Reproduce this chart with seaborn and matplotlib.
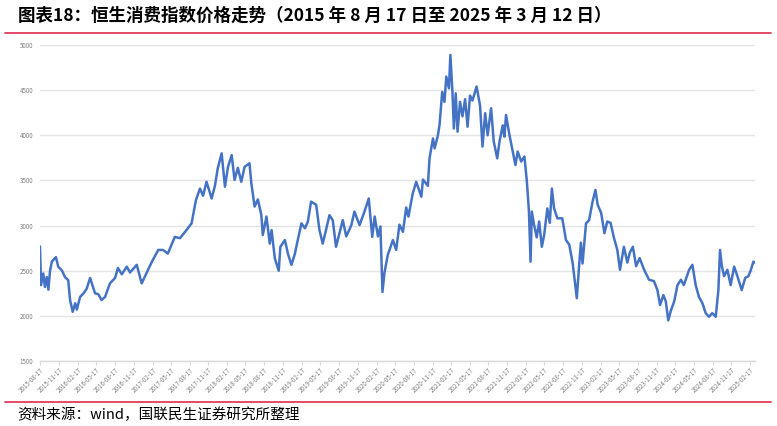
import pandas as pd
import matplotlib
matplotlib.use("Agg")
import matplotlib.pyplot as plt
import matplotlib.dates as mdates
import seaborn as sns

# 恒生消费指数 readings taken off the reference chart
dates = [
    "2015-08-17", "2015-08-22", "2015-09-02", "2015-09-10", "2015-09-19", "2015-09-27",
    "2015-10-05", "2015-10-14", "2015-10-29", "2015-11-03", "2015-11-14", "2015-12-03",
    "2015-12-17", "2016-01-02", "2016-01-11", "2016-01-24", "2016-02-05", "2016-02-13",
    "2016-02-29", "2016-03-17", "2016-04-01", "2016-04-18", "2016-05-12", "2016-05-28",
    "2016-06-13", "2016-06-30", "2016-07-24", "2016-08-18", "2016-09-01", "2016-09-20",
    "2016-10-14", "2016-10-30", "2016-12-02", "2016-12-26", "2017-01-20", "2017-02-14",
    "2017-03-17", "2017-04-09", "2017-05-03", "2017-06-06", "2017-07-01", "2017-08-02",
    "2017-08-27", "2017-09-17", "2017-10-07", "2017-10-22", "2017-11-08", "2017-12-03",
    "2017-12-19", "2018-01-02", "2018-01-21", "2018-02-06", "2018-02-21", "2018-03-11",
    "2018-03-25", "2018-04-10", "2018-04-27", "2018-05-13", "2018-06-06", "2018-06-15",
    "2018-07-01", "2018-07-17", "2018-08-03", "2018-08-10", "2018-08-28", "2018-09-13",
    "2018-09-22", "2018-10-08", "2018-10-27", "2018-11-04", "2018-11-26", "2018-12-12",
    "2018-12-28", "2019-01-13", "2019-01-28", "2019-02-15", "2019-03-04", "2019-03-18",
    "2019-04-03", "2019-04-28", "2019-05-14", "2019-05-30", "2019-06-15", "2019-07-02",
    "2019-07-18", "2019-08-03", "2019-08-20", "2019-09-05", "2019-09-22", "2019-10-17",
    "2019-11-01", "2019-11-26", "2019-12-20", "2020-01-10", "2020-01-27", "2020-02-08",
    "2020-02-24", "2020-03-07", "2020-03-17", "2020-03-27", "2020-04-12", "2020-05-07",
    "2020-05-23", "2020-06-08", "2020-06-25", "2020-07-11", "2020-07-22", "2020-08-12",
    "2020-08-29", "2020-09-23", "2020-10-01", "2020-10-25", "2020-11-02", "2020-11-19",
    "2020-11-27", "2020-12-13", "2020-12-21", "2021-01-03", "2021-01-14", "2021-01-23",
    "2021-02-05", "2021-02-12", "2021-02-22", "2021-03-01", "2021-03-10", "2021-03-19",
    "2021-03-31", "2021-04-12", "2021-04-25", "2021-05-07", "2021-05-19", "2021-05-31",
    "2021-06-20", "2021-07-07", "2021-07-19", "2021-08-01", "2021-08-13", "2021-08-30",
    "2021-09-12", "2021-09-29", "2021-10-10", "2021-10-26", "2021-11-03", "2021-11-11",
    "2021-11-28", "2021-12-14", "2021-12-27", "2022-01-07", "2022-01-24", "2022-02-09",
    "2022-02-21", "2022-03-03", "2022-03-11", "2022-03-17", "2022-03-28", "2022-04-10",
    "2022-04-22", "2022-05-05", "2022-05-16", "2022-06-01", "2022-06-13", "2022-06-23",
    "2022-07-04", "2022-07-20", "2022-08-13", "2022-08-31", "2022-09-16", "2022-10-03",
    "2022-10-16", "2022-10-23", "2022-11-04", "2022-11-12", "2022-11-20", "2022-12-07",
    "2022-12-22", "2023-01-08", "2023-01-22", "2023-02-02", "2023-02-19", "2023-03-07",
    "2023-03-21", "2023-04-06", "2023-04-23", "2023-05-09", "2023-05-22", "2023-06-10",
    "2023-06-27", "2023-07-09", "2023-07-24", "2023-08-09", "2023-08-26", "2023-09-17",
    "2023-10-11", "2023-11-04", "2023-11-21", "2023-12-04", "2023-12-20", "2024-01-01",
    "2024-01-13", "2024-01-26", "2024-02-11", "2024-02-27", "2024-03-15", "2024-03-29",
    "2024-04-24", "2024-05-10", "2024-05-26", "2024-06-11", "2024-06-28", "2024-07-14",
    "2024-07-30", "2024-08-15", "2024-09-01", "2024-09-14", "2024-09-22", "2024-10-01",
    "2024-10-12", "2024-10-28", "2024-11-13", "2024-11-30", "2024-12-16", "2025-01-06",
    "2025-01-23", "2025-02-08", "2025-02-20", "2025-03-04", "2025-03-12",
]
index_values = [
    2768, 2340, 2470, 2320, 2430, 2290,
    2500, 2600, 2640, 2650, 2545, 2500,
    2430, 2395, 2175, 2045, 2140, 2070,
    2210, 2250, 2300, 2420, 2250, 2240,
    2175, 2210, 2360, 2420, 2530, 2460,
    2545, 2480, 2565, 2360, 2480, 2600,
    2730, 2730, 2690, 2875, 2860, 2950,
    3025, 3280, 3410, 3330, 3485, 3300,
    3440, 3635, 3800, 3430, 3650, 3780,
    3505, 3640, 3485, 3650, 3690, 3470,
    3210, 3290, 3115, 2895, 3100, 2800,
    2950, 2635, 2500, 2765, 2840, 2680,
    2565, 2680, 2840, 3025, 2970, 3040,
    3265, 3230, 2950, 2800, 2950, 3115,
    3060, 2765, 2915, 3060, 2880, 3005,
    3155, 3005, 3155, 3300, 2875, 3100,
    2880, 2990, 2265, 2480, 2675, 2840,
    2730, 3010, 2930, 3200, 3100, 3355,
    3485, 3320, 3510, 3440, 3745, 3965,
    3855, 4000, 4115, 4480, 4370, 4650,
    4520, 4890, 4480, 4075, 4465, 4040,
    4370, 4210, 4400, 4095, 4440, 4385,
    4540, 4330, 3875, 4245, 4000, 4300,
    3930, 3745, 3930, 4110, 3985, 4225,
    4000, 3820, 3670, 3820, 3710, 3765,
    3485, 3155, 2600, 3155, 3010, 2870,
    3045, 2765, 2890, 3190, 3030, 3410,
    3190, 3080, 3080, 2840, 2790, 2580,
    2325, 2195, 2580, 2810, 2580, 3025,
    3060, 3265, 3395, 3230, 3140, 2915,
    3045, 3030, 2860, 2730, 2510, 2765,
    2590, 2700, 2765, 2550, 2640, 2510,
    2400, 2385, 2285, 2120, 2230, 2160,
    1950, 2060, 2160, 2340, 2400, 2340,
    2510, 2565, 2340, 2210, 2140, 2030,
    1990, 2030, 1990, 2285, 2730, 2550,
    2440, 2510, 2340, 2545, 2440, 2285,
    2420, 2440, 2510, 2600, 2590,
]
y_ticks = [1500, 2000, 2500, 3000, 3500, 4000, 4500, 5000]

title = "图表18：恒生消费指数价格走势（2015 年 8 月 17 日至 2025 年 3 月 12 日）"
source = "资料来源：wind，国联民生证券研究所整理"

LINE_BLUE = "#4472C4"
RULE_RED = "#E33B5B"
GRID_GREY = "#E3E3E3"
TEXT_GREY = "#7F7F7F"

sns.set_theme(style="white")
plt.rcParams["font.family"] = ["Noto Sans CJK SC", "DejaVu Sans"]
plt.rcParams["axes.unicode_minus"] = False

df = pd.DataFrame({"date": pd.to_datetime(dates), "value": index_values})

fig = plt.figure(figsize=(7.77, 4.26), dpi=100)
ax = fig.add_axes([40 / 777, 1 - 361 / 426, 715 / 777, 316 / 426])

sns.lineplot(data=df, x="date", y="value", ax=ax, color=LINE_BLUE, linewidth=1.8)

ax.set_ylim(1500, 5000)
ax.set_yticks(y_ticks)
ax.set_xlim(pd.Timestamp("2015-08-17"), pd.Timestamp("2025-03-12"))
tick_dates = pd.date_range("2015-08-17", "2025-02-17", freq=pd.DateOffset(months=3))
ax.set_xticks(tick_dates)
ax.xaxis.set_major_formatter(mdates.DateFormatter("%Y-%m-%d"))

ax.grid(axis="y", color=GRID_GREY, linewidth=1.0)
ax.grid(axis="x", visible=False)
for side in ["top", "right", "left"]:
    ax.spines[side].set_visible(False)
ax.spines["bottom"].set_color("#D9D9D9")
ax.spines["bottom"].set_linewidth(1.0)

ax.tick_params(axis="y", length=0, pad=5, labelsize=4.5, labelcolor=TEXT_GREY)
ax.tick_params(axis="x", length=3, width=0.8, color="#D9D9D9", pad=1,
               labelsize=4.5, labelcolor=TEXT_GREY, bottom=True)
for lbl in ax.get_xticklabels():
    lbl.set_rotation(45)
    lbl.set_ha("right")
    lbl.set_rotation_mode("anchor")
ax.set_xlabel("")
ax.set_ylabel("")

# title, red rules and source note
fig.text(18 / 777, 1 - 16 / 426, title, fontsize=12.6, fontweight="bold",
         color="black", ha="left", va="center")
fig.add_artist(plt.Line2D([5 / 777, 771 / 777], [1 - 33 / 426] * 2,
                          color=RULE_RED, linewidth=1.3))
fig.add_artist(plt.Line2D([5 / 777, 771 / 777], [1 - 402 / 426] * 2,
                          color=RULE_RED, linewidth=1.3))
fig.text(17 / 777, 1 - 415 / 426, source, fontsize=10.5, color="black",
         ha="left", va="center")

fig.savefig("out.png", dpi=100)
